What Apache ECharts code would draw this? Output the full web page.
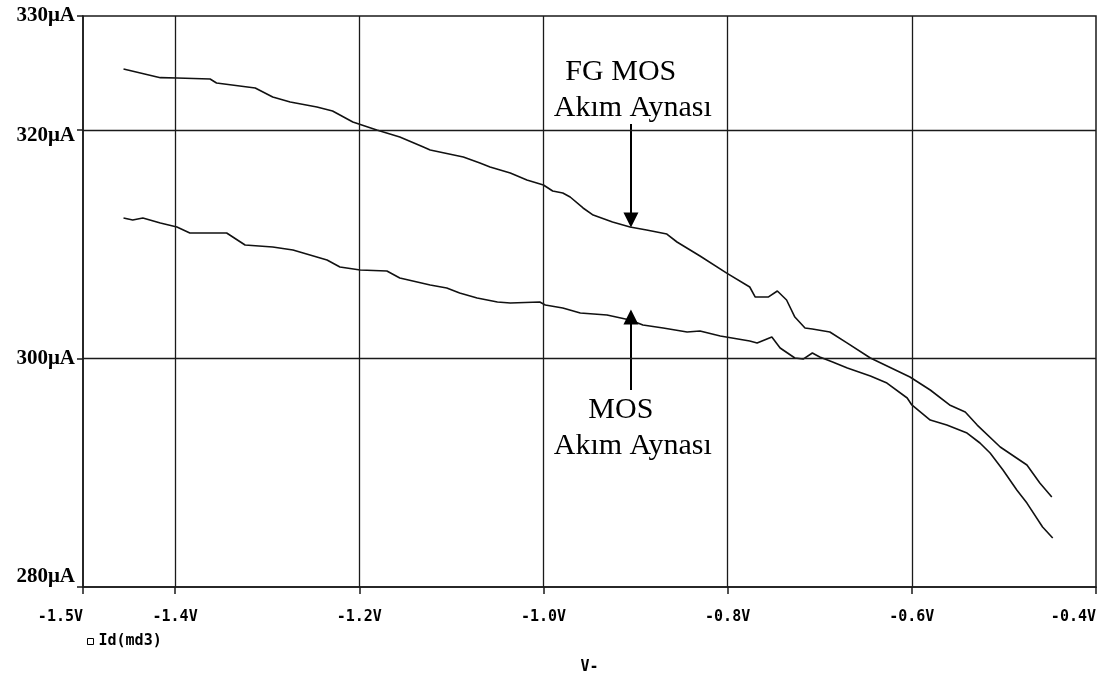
<!DOCTYPE html>
<html>
<head>
<meta charset="utf-8">
<script src="https://cdn.jsdelivr.net/npm/echarts@6/dist/echarts.min.js"></script>
<style>
html,body{margin:0;padding:0;background:#fff;}
#chart{width:1108px;height:678px;}
</style>
</head>
<body>
<div id="chart"></div>
<script>
// ---- data ----
const xTickValues = [-1.5, -1.4, -1.2, -1.0, -0.8, -0.6, -0.4];
const xGridValues = [-1.4, -1.2, -1.0, -0.8, -0.6];
const yTickValues = [280, 300, 320, 330];
const yGridValues = [320, 300];

const fgV = [-1.456,-1.416,-1.398,-1.362,-1.355,-1.313,-1.294,-1.275,-1.246,-1.229,-1.207,-1.181,-1.156,-1.131,-1.123,-1.087,-1.069,-1.058,-1.036,-1.018,-1.000,-0.990,-0.979,-0.971,-0.957,-0.946,-0.925,-0.906,-0.888,-0.866,-0.855,-0.830,-0.801,-0.776,-0.770,-0.756,-0.746,-0.736,-0.727,-0.716,-0.708,-0.689,-0.670,-0.645,-0.602,-0.580,-0.559,-0.542,-0.529,-0.504,-0.475,-0.461,-0.448];
const fgI = [325.36,324.60,324.57,324.48,324.13,323.70,322.91,322.47,322.03,321.68,320.72,320.02,319.40,318.55,318.27,317.65,317.13,316.78,316.25,315.64,315.20,314.68,314.50,314.15,313.19,312.57,311.96,311.52,311.26,310.91,310.21,308.98,307.49,306.27,305.39,305.39,305.92,305.13,303.64,302.68,302.59,302.33,301.36,300.05,298.39,297.25,295.94,295.32,294.18,292.26,290.68,289.10,287.88];

const mosV = [-1.456,-1.446,-1.435,-1.416,-1.398,-1.384,-1.344,-1.324,-1.294,-1.272,-1.235,-1.221,-1.199,-1.170,-1.156,-1.123,-1.105,-1.091,-1.072,-1.050,-1.036,-1.004,-0.998,-0.979,-0.960,-0.931,-0.906,-0.892,-0.870,-0.844,-0.830,-0.808,-0.776,-0.768,-0.752,-0.743,-0.727,-0.718,-0.708,-0.700,-0.686,-0.670,-0.645,-0.627,-0.605,-0.600,-0.580,-0.562,-0.540,-0.526,-0.515,-0.501,-0.486,-0.475,-0.458,-0.447];
const mosI = [312.31,312.14,312.31,311.87,311.52,311.00,311.00,309.95,309.77,309.51,308.63,308.02,307.76,307.67,307.06,306.44,306.18,305.74,305.31,304.95,304.87,304.95,304.69,304.43,303.99,303.82,303.38,302.94,302.68,302.33,302.42,301.98,301.54,301.36,301.89,300.93,300.05,299.96,300.49,300.14,299.70,299.18,298.47,297.86,296.55,295.94,294.62,294.18,293.48,292.61,291.73,290.24,288.49,287.35,285.25,284.29];

const seriesName = 'Id(md3)';
const arrowX = [-0.905, -0.905];
const arrowFrom = [320.54, 297.25];
const arrowTo = [312.14, 303.64];
const annotText = ['FG MOS', 'Akım Aynası', 'MOS', 'Akım Aynası'];
const annotX = [-0.916, -0.903, -0.916, -0.903];
const annotY = [325.10, 321.94, 295.50, 292.34];

// ---- chart ----
const chart = echarts.init(document.getElementById('chart'), null, {renderer: 'canvas'});
const zip = (a, b) => a.map((v, i) => [v, b[i]]);
const monoFont = 'DejaVu Sans Mono';
const lineColor = '#111';

const option = {
  animation: false,
  backgroundColor: '#fff',
  grid: {left: 83, top: 16, right: 12, bottom: 91, show: true, borderColor: '#1a1a1a', borderWidth: 1.5,
         backgroundColor: 'transparent', outerBoundsMode: 'none', containLabel: false},
  legend: {
    left: 87, top: 634, padding: 0, itemWidth: 6, itemHeight: 6, itemGap: 10,
    data: [{name: seriesName, icon: 'rect', itemStyle: {color: '#fff', borderColor: '#000', borderWidth: 1}}],
    textStyle: {fontFamily: monoFont, fontWeight: 'bold', fontSize: 15, color: '#000'},
    selectedMode: false
  },
  xAxis: {
    type: 'value', min: -1.5, max: -0.4, interval: 0.1,
    name: 'V-', nameLocation: 'middle', nameGap: 73,
    nameTextStyle: {fontFamily: monoFont, fontWeight: 'bold', fontSize: 15, color: '#000'},
    axisLine: {show: true, lineStyle: {color: '#1a1a1a', width: 1.5}},
    axisTick: {show: true, inside: false, length: 7, customValues: xTickValues, lineStyle: {color: '#1a1a1a', width: 1.5}},
    axisLabel: {
      customValues: xTickValues, margin: 23,
      fontFamily: monoFont, fontWeight: 'bold', fontSize: 15, color: '#000',
      alignMinLabel: 'right', alignMaxLabel: 'right',
      formatter: v => v.toFixed(1) + 'V'
    },
    splitLine: {show: false}
  },
  yAxis: {
    type: 'value', min: 280, max: 330, interval: 10,
    axisLine: {show: true, lineStyle: {color: '#1a1a1a', width: 1.5}},
    axisTick: {show: true, inside: false, length: 6, customValues: yTickValues, lineStyle: {color: '#1a1a1a', width: 1.5}},
    axisLabel: {
      customValues: yTickValues, margin: 8,
      fontFamily: 'Liberation Serif', fontWeight: 'bold', fontSize: 21, color: '#000',
      verticalAlignMinLabel: 'bottom', verticalAlignMaxLabel: 'middle',
      formatter: v => v === 320 ? '{low|' + v + 'μA}' : v + 'μA',
      rich: {low: {fontFamily: 'Liberation Serif', fontWeight: 'bold', fontSize: 21, color: '#000', padding: [10, 0, 0, 0]}}
    },
    splitLine: {show: false}
  },
  series: [
    {
      name: seriesName, type: 'line', data: zip(fgV, fgI), showSymbol: false, symbol: 'none',
      lineStyle: {color: lineColor, width: 1.6}, itemStyle: {color: lineColor}, z: 3,
      emphasis: {disabled: true},
      markLine: {
        silent: true, symbol: ['none', 'triangle'], symbolSize: [15, 15], precision: 4,
        lineStyle: {color: '#000', width: 2, type: 'solid'}, itemStyle: {color: '#000'},
        label: {show: false}, emphasis: {disabled: true},
        data: arrowX.map((x, i) => [{coord: [x, arrowFrom[i]]}, {coord: [x, arrowTo[i]]}])
      }
    },
    {
      name: seriesName, type: 'line', data: zip(mosV, mosI), showSymbol: false, symbol: 'none',
      lineStyle: {color: lineColor, width: 1.6}, itemStyle: {color: lineColor}, z: 3,
      emphasis: {disabled: true},
      markLine: {
        silent: true, symbol: ['none', 'none'], precision: 4,
        lineStyle: {color: '#1a1a1a', width: 1.3, type: 'solid'},
        label: {show: false}, emphasis: {disabled: true},
        data: xGridValues.map(v => ({xAxis: v})).concat(yGridValues.map(v => ({yAxis: v})))
      }
    }
  ]
};
chart.setOption(option);

chart.setOption({
  graphic: annotText.map((t, i) => {
    const p = chart.convertToPixel({gridIndex: 0}, [annotX[i], annotY[i]]);
    return {
      type: 'text', x: p[0], y: p[1], z: 10,
      style: {text: t, fontFamily: 'Liberation Serif', fontSize: 30, fill: '#000', align: 'center', verticalAlign: 'middle'}
    };
  })
});
</script>
</body>
</html>
